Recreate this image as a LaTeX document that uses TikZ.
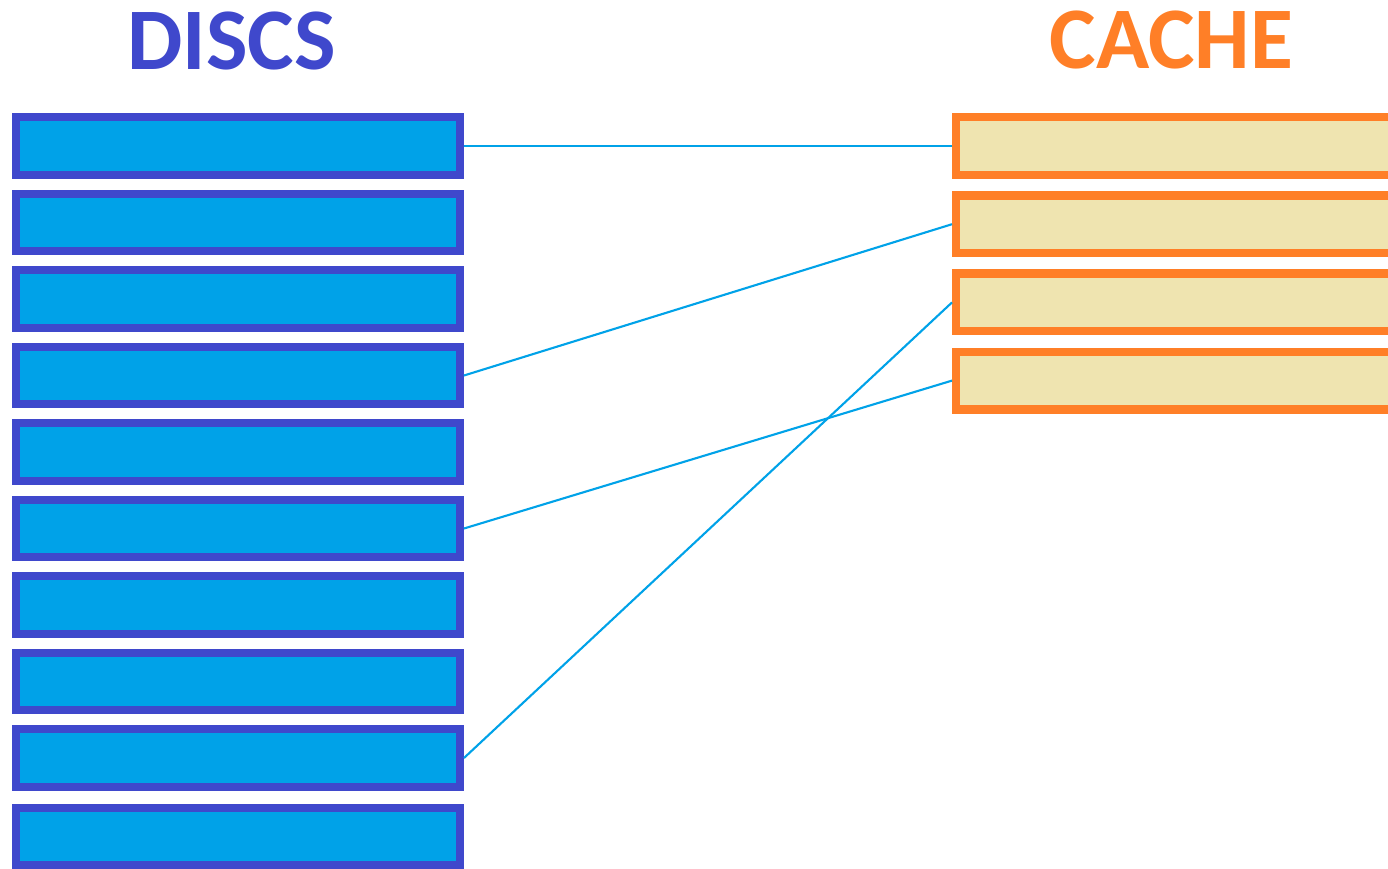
\documentclass[tikz,border=0pt]{standalone}
\usepackage{fontspec}
\setmainfont{Carlito}
\definecolor{discfill}{RGB}{0,162,232}
\definecolor{discline}{RGB}{63,72,204}
\definecolor{cachefill}{RGB}{239,228,176}
\definecolor{cacheline}{RGB}{255,127,39}
\tikzset{
  disc/.style={draw=discline,fill=discfill,line width=2.4pt,
    minimum width=4.435cm,minimum height=0.575cm,inner sep=0pt},
  slot/.style={draw=cacheline,fill=cachefill,line width=2.4pt,
    minimum width=4.435cm,minimum height=0.575cm,inner sep=0pt},
  link/.style={draw=discfill,line width=0.6pt},
  title/.style={font=\bfseries\fontsize{25}{29}\selectfont,anchor=base}
}
\begin{document}
\begin{tikzpicture}
  \clip (0,0) rectangle (13.88,-8.69);
  \useasboundingbox (0,0) rectangle (13.88,-8.69);
  %%% titles
  \node[title,text=discline] (discs) at (2.315,-0.70) {DISCS};
  \node[title,text=cacheline] (cache) at (11.715,-0.69) {CACHE};
  %%% discs
  \node[disc] (d1) at (2.38,-1.460) {};
  \node[disc] (d2) at (2.38,-2.225) {};
  \node[disc] (d3) at (2.38,-2.990) {};
  \node[disc] (d4) at (2.38,-3.755) {};
  \node[disc] (d5) at (2.38,-4.520) {};
  \node[disc] (d6) at (2.38,-5.285) {};
  \node[disc] (d7) at (2.38,-6.050) {};
  \node[disc] (d8) at (2.38,-6.815) {};
  \node[disc] (d9) at (2.38,-7.580) {};
  \node[disc] (d10) at (2.38,-8.365) {};
  %%% cache
  \node[slot] (c1) at (11.78,-1.460) {};
  \node[slot] (c2) at (11.78,-2.242) {};
  \node[slot] (c3) at (11.78,-3.024) {};
  \node[slot] (c4) at (11.78,-3.806) {};
  %%% links
  \draw[link] (d1.east) -- (c1.west);
  \draw[link] (d4.east) -- (c2.west);
  \draw[link] (d6.east) -- (c4.west);
  \draw[link] (d9.east) -- (c3.west);
\end{tikzpicture}
\end{document}
